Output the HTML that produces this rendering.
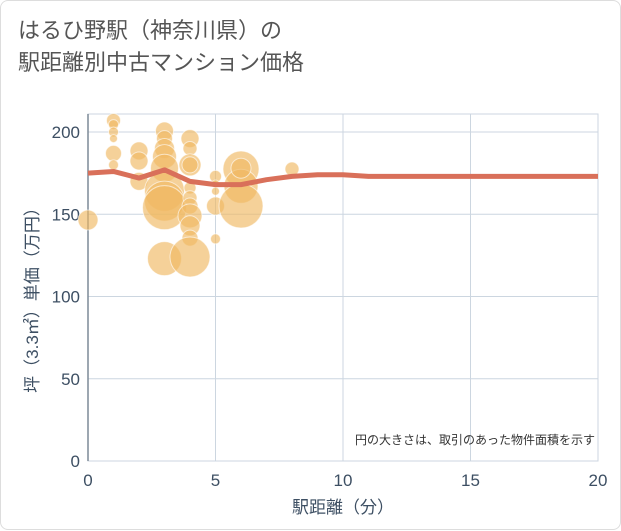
<!DOCTYPE html>
<html><head><meta charset="utf-8">
<style>
body{margin:0;background:#fff;font-family:"Liberation Sans","Noto Sans CJK JP",sans-serif;}
#card{position:absolute;left:0;top:0;width:619px;height:528px;border:1px solid #ddd;border-radius:8px;background:#fff;}
#title{position:absolute;left:17px;top:14px;font-size:22px;line-height:32px;color:#555;}
</style></head><body>
<div id="card">
<div id="title">はるひ野駅（神奈川県）の<br>駅距離別中古マンション価格</div>
<svg id="chart" width="621" height="530" style="position:absolute;left:0;top:0"></svg>
</div>
<script>
const xTicks=[0,5,10,15,20];
const yTicks=[0,50,100,150,200];
const bx=[0,1,1,1,1,1,1,2,2,2,3,3,3,3,3,3,3,3,3,4,4,4,4,4,4,4,4,4,4,4,5,5,5,5,5,6,6,6,6,8];
const by=[146.5,207,204.5,200,196,187,180,188.5,182.4,170,200.6,196,190,185,178,164,158,154,123,196,190,180,180,166,160,155,149,143,135.5,124,173,168.4,164,155,135,177.5,167,155,178,177.5];
const bs=[10,7,5,5,4,8,5,9,9,9,9,8,10,12,14,20,20,22,17,9,7,11,8,6,7,8,12,10,8,20,6,4,4,9,5,18,17,22,10,7];
const tx=[0,1,2,3,4,5,6,7,8,9,10,11,12,13,14,15,16,17,18,19,20];
const ty=[175,176,172,177,170,168,168,171,173,174,174,173,173,173,173,173,173,173,173,173,173];
const NS="http://www.w3.org/2000/svg";
const svg=document.getElementById('chart');
const L=87,R=597,T=113,B=460;
const sx=v=>L+(v-0)/20*(R-L);
const sy=v=>B-v/200*(B-131);
function mk(t,a){const e=document.createElementNS(NS,t);for(const k in a)e.setAttribute(k,a[k]);svg.appendChild(e);return e;}
let bg=mk('rect',{x:L,y:T,width:R-L,height:B-T,fill:'#fff',stroke:'#ccd6e0'});


xTicks.forEach(v=>{
 const g=mk('line',{x1:sx(v),x2:sx(v),y1:T,y2:B,stroke:'#ccd6e0'});
 
 
 const t=mk('text',{x:sx(v),y:B+25,'text-anchor':'middle','font-size':17,fill:'#3d4f63'});t.textContent=v;
 
 
});
yTicks.forEach(v=>{
 const g=mk('line',{x1:L,x2:R,y1:sy(v),y2:sy(v),stroke:'#ccd6e0'});
 
 
 const t=mk('text',{x:L-8,y:sy(v)+6,'text-anchor':'end','font-size':17,fill:'#3d4f63'});t.textContent=v;
 
 
});
const ax=mk('line',{x1:L,x2:L,y1:T,y2:B,stroke:'#7d8a97','stroke-width':1.5});


bx.forEach((v,i)=>{
 const c=mk('circle',{cx:sx(v),cy:sy(by[i]),r:bs[i],fill:'rgba(240,184,98,0.65)',stroke:'rgba(255,255,255,0.6)','stroke-width':1});
 
 
});
const p=mk('path',{d:tx.map((v,i)=>(i?'L':'M')+sx(v)+','+sy(ty[i])).join(''),fill:'none',stroke:'#d9705a','stroke-width':5,'stroke-linejoin':'round'});


const note=mk('text',{x:594,y:443,'text-anchor':'end','font-size':12,fill:'#333'});note.textContent='円の大きさは、取引のあった物件面積を示す';


const xt=mk('text',{x:342,y:512,'text-anchor':'middle','font-size':17,fill:'#3d4f63'});xt.textContent='駅距離（分）';


const yt=mk('text',{x:0,y:0,'text-anchor':'middle','font-size':17,fill:'#3d4f63',transform:'translate(37,295) rotate(-90)'});yt.textContent='坪（3.3㎡）単価（万円）';


</script>
</body></html>
